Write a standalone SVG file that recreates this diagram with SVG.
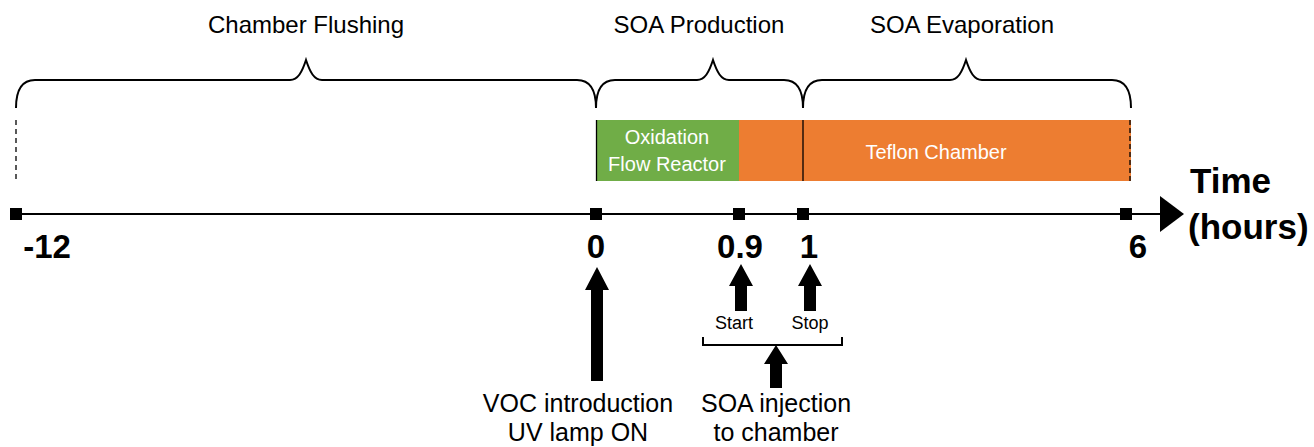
<svg xmlns="http://www.w3.org/2000/svg" width="1314" height="447" viewBox="0 0 1314 447">
<style>
.t{font-family:"Liberation Sans",Arial,sans-serif;fill:#000}
.ph{font-size:24px;text-anchor:middle}
.num{font-size:33px;font-weight:bold;text-anchor:middle}
.ax{font-size:35px;font-weight:bold}
.box{font-size:20px;fill:#fff;text-anchor:middle;font-family:"Liberation Sans",Arial,sans-serif}
.lbl{font-size:25px;text-anchor:middle}
.sm{font-size:18px;text-anchor:middle}
.br{fill:none;stroke:#000;stroke-width:2}
.arr{fill:#000}
</style>
<defs>
<path id="sqm" d="M-6,-6h12v12h-12z"/>
</defs>
<g id="phase-labels">
<text class="t ph" x="306" y="33">Chamber Flushing</text>
<text class="t ph" x="699" y="33">SOA Production</text>
<text class="t ph" x="962" y="33">SOA Evaporation</text>
</g>
<g id="braces">
<path class="br" d="M16,108 C16,90 22,80 35,80 L290,80 C298,80 302,72 306,60 C310,72 314,80 322,80 L577,80 C590,80 596,90 596,108"/>
<path class="br" d="M596,108 C596,90 602,80 615,80 L697,80 C705,80 709,72 713,60 C717,72 721,80 729,80 L784,80 C797,80 803,90 803,108"/>
<path class="br" d="M803,108 C803,90 809,80 822,80 L950,80 C958,80 962,72 966,60 C970,72 974,80 982,80 L1112,80 C1125,80 1131,90 1131,108"/>
</g>
<g id="bars">
<line x1="16" y1="120" x2="16" y2="181" stroke="#000" stroke-width="1.3" stroke-dasharray="5,4"/>
<rect id="ofr" x="596" y="120" width="143" height="61" fill="#70ad47"/>
<rect id="teflon" x="739" y="120" width="392" height="61" fill="#ed7d31"/>
<line x1="596.5" y1="120" x2="596.5" y2="181" stroke="#000" stroke-width="1.3"/>
<line x1="803" y1="120" x2="803" y2="181" stroke="#000" stroke-width="1.3"/>
<line x1="1130" y1="120" x2="1130" y2="181" stroke="#000" stroke-width="1.3" stroke-dasharray="5,3"/>
<text class="box" x="667" y="144">Oxidation</text>
<text class="box" x="667" y="171">Flow Reactor</text>
<text class="box" x="936" y="159">Teflon Chamber</text>
</g>
<g id="axis">
<line x1="16" y1="214" x2="1165" y2="214" stroke="#000" stroke-width="2"/>
<path class="arr" d="M1160,196 L1184,214 L1160,232 Z"/>
<use href="#sqm" x="16" y="214"/>
<use href="#sqm" x="596" y="214"/>
<use href="#sqm" x="739" y="214"/>
<use href="#sqm" x="803" y="214"/>
<use href="#sqm" x="1126" y="214"/>
<text class="t num" x="47" y="258">-12</text>
<text class="t num" x="596" y="258">0</text>
<text class="t num" x="740" y="258">0.9</text>
<text class="t num" x="809" y="258">1</text>
<text class="t num" x="1138" y="258">6</text>
<text class="t ax" x="1190" y="193">Time</text>
<text class="t ax" x="1188" y="239">(hours)</text>
</g>
<g id="events">
<path class="arr" d="M597,267 L609,290 L603,290 L603,381 L591,381 L591,290 L585,290 Z"/>
<path class="arr" d="M741,264 L753,286 L747,286 L747,311 L735,311 L735,286 L729,286 Z"/>
<path class="arr" d="M810,264 L822,286 L816,286 L816,311 L804,311 L804,286 L798,286 Z"/>
<text class="t sm" x="734" y="329">Start</text>
<text class="t sm" x="810" y="329">Stop</text>
<path class="br" d="M703,337 V345 H842 V337"/>
<path class="arr" d="M776,345 L788,364 L782,364 L782,388 L770,388 L770,364 L764,364 Z"/>
<text class="t lbl" x="578" y="412">VOC introduction</text>
<text class="t lbl" x="578" y="441">UV lamp ON</text>
<text class="t lbl" x="776" y="412">SOA injection</text>
<text class="t lbl" x="776" y="441">to chamber</text>
</g>
</svg>
